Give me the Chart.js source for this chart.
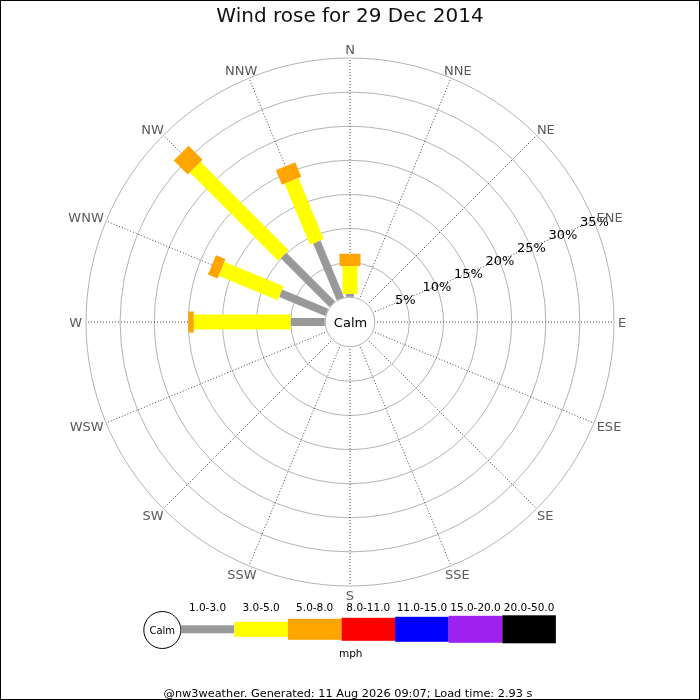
<!DOCTYPE html>
<html>
<head>
<meta charset="utf-8">
<script src="https://cdn.jsdelivr.net/npm/chart.js@4.4.1/dist/chart.umd.min.js"></script>
<style>
    html, body { margin: 0; padding: 0; background: #fff; }
    #wrap { width: 700px; height: 700px; }
</style>
</head>
<body>
<div id="wrap"><canvas id="rose" width="700" height="700"></canvas></div>
<script>
// compass points, clockwise from north
let directions = ['N', 'NNE', 'NE', 'ENE', 'E', 'ESE', 'SE', 'SSE', 'S', 'SSW', 'SW', 'WSW', 'W', 'WNW', 'NW', 'NNW'];
let speed_bins = ['1.0-3.0', '3.0-5.0', '5.0-8.0', '8.0-11.0', '11.0-15.0', '15.0-20.0', '20.0-50.0'];
let bin_colors = ['#999999', '#ffff00', '#ffa500', '#ff0000', '#0000ff', '#a020f0', '#000000'];

// % of the day per direction, one list per speed bin (mph)
let pct_1_3   = [0.4, 0, 0, 0, 0, 0, 0, 0, 0, 0, 0, 0, 5.0, 7.3, 10.1, 9.0];
let pct_3_5   = [4.1, 0, 0, 0, 0, 0, 0, 0, 0, 0, 0, 0, 14.2, 9.4, 18.3, 9.7];
let pct_5_8   = [1.8, 0, 0, 0, 0, 0, 0, 0, 0, 0, 0, 0, 0.8, 1.5, 2.9, 2.3];
let pct_8_11  = [0, 0, 0, 0, 0, 0, 0, 0, 0, 0, 0, 0, 0, 0, 0, 0];
let pct_11_15 = [0, 0, 0, 0, 0, 0, 0, 0, 0, 0, 0, 0, 0, 0, 0, 0];
let pct_15_20 = [0, 0, 0, 0, 0, 0, 0, 0, 0, 0, 0, 0, 0, 0, 0, 0];
let pct_20_50 = [0, 0, 0, 0, 0, 0, 0, 0, 0, 0, 0, 0, 0, 0, 0, 0];

let ring_ticks = [5, 10, 15, 20, 25, 30, 35];

let title_txt = 'Wind rose for 29 Dec 2014';
let unit_txt = 'mph';
let footer_txt = '@nw3weather. Generated: 11 Aug 2026 09:07; Load time: 2.93 s';

const FONT = '"DejaVu Sans", Verdana, sans-serif';
const bar_w = [8, 15, 21, 23, 25, 27, 28];
let all_bins = [pct_1_3, pct_3_5, pct_5_8, pct_8_11, pct_11_15, pct_15_20, pct_20_50];

const roseDraw = {
    id: 'roseDraw',
    beforeDraw(chart) {
        const ctx = chart.ctx;
        ctx.save();
        ctx.fillStyle = '#fff';
        ctx.fillRect(0, 0, chart.width, chart.height);
        ctx.restore();
    },
    afterDatasetsDraw(chart) {
        const ctx = chart.ctx;
        const sc = chart.scales.r;
        const sets = chart.data.datasets;
        ctx.save();

        // calm circle in the middle
        const r0 = sc.getDistanceFromCenterForValue(0);
        ctx.beginPath();
        ctx.arc(sc.xCenter, sc.yCenter, r0 - 0.5, 0, Math.PI * 2);
        ctx.fillStyle = '#fff';
        ctx.fill();
        ctx.lineWidth = 1;
        ctx.strokeStyle = '#b4b4b4';
        ctx.stroke();

        // stacked bars, one per direction
        ctx.lineCap = 'butt';
        directions.forEach(function (d, i) {
            let cum = 0;
            sets.forEach(function (ds, b) {
                let v = ds.data[i];
                if (!v) return;
                let a = sc.getPointPositionForValue(i, cum);
                let z = sc.getPointPositionForValue(i, cum + v);
                ctx.beginPath();
                ctx.moveTo(a.x, a.y);
                ctx.lineTo(z.x, z.y);
                ctx.lineWidth = bar_w[b];
                ctx.strokeStyle = ds.borderColor;
                ctx.stroke();
                cum += v;
            });
        });

        ctx.fillStyle = '#000';
        ctx.font = '13px ' + FONT;
        ctx.textAlign = 'center';
        ctx.textBaseline = 'alphabetic';
        ctx.fillText('Calm', sc.xCenter + 0.5, sc.yCenter + 4.7);

        // ring labels along the ENE spoke
        ring_ticks.forEach(function (t) {
            let p = sc.getPointPositionForValue(3, t);
            ctx.fillText(t + '%', p.x + 0.5, p.y + 4.7);
        });

        // compass labels, nudged outward by their own size
        ctx.fillStyle = '#5a5a5a';
        directions.forEach(function (d, i) {
            let th = i * Math.PI * 2 / directions.length;
            let p = sc.getPointPosition(i, sc.drawingArea + 4);
            let w = ctx.measureText(d).width, h = 9.5;
            let cx = p.x + 0.5 * w * Math.sin(th);
            let cy = p.y - 0.5 * h * Math.cos(th);
            ctx.fillText(d, cx, cy + h / 2);
        });

        // speed key
        const kx = 180.7, ky = 629.3, kw = 53.6;
        ctx.beginPath();
        ctx.arc(162.3, 630, 18.5, 0, Math.PI * 2);
        ctx.fillStyle = '#fff';
        ctx.fill();
        ctx.strokeStyle = '#000';
        ctx.lineWidth = 1;
        ctx.stroke();
        ctx.fillStyle = '#000';
        ctx.font = '10px ' + FONT;
        ctx.fillText('Calm', 162.3, 633.6);
        ctx.font = '10.5px ' + FONT;
        speed_bins.forEach(function (lab, b) {
            let x0 = kx + b * kw;
            ctx.fillStyle = bin_colors[b];
            ctx.fillRect(x0, ky - bar_w[b] / 2, kw, bar_w[b]);
            ctx.fillStyle = '#000';
            ctx.fillText(lab, x0 + kw / 2, 611);
        });
        ctx.fillText(unit_txt, 350.7, 657);

        ctx.font = '11.3px ' + FONT;
        ctx.fillText(footer_txt, 348, 696.5);
        ctx.restore();
    },
    afterDraw(chart) {
        const ctx = chart.ctx;
        ctx.save();
        ctx.strokeStyle = '#000';
        ctx.lineWidth = 1;
        ctx.strokeRect(0.5, 0.5, chart.width - 1, chart.height - 1);
        ctx.restore();
    }
};

let rose = new Chart(document.getElementById('rose'), {
    type: 'radar',
    data: {
        labels: directions,
        datasets: speed_bins.map(function (lab, b) {
            return {
                label: lab, data: all_bins[b],
                fill: false, showLine: false, pointRadius: 0, pointHoverRadius: 0, borderWidth: 0,
                backgroundColor: 'rgba(0,0,0,0)', borderColor: bin_colors[b]
            };
        })
    },
    options: {
        responsive: false,
        animation: false,
        layout: {padding: {top: 0, bottom: 114, left: 0, right: 0}},
        plugins: {
            legend: {display: false},
            tooltip: {enabled: false},
            filler: {propagate: false},
            title: {
                display: true, text: title_txt, color: '#111',
                font: {family: FONT, size: 20, weight: 'normal'},
                padding: {top: 5, bottom: 29}
            }
        },
        scales: {
            r: {
                min: -3.7, max: 35,
                ticks: {display: false, stepSize: 5},
                grid: {
                    circular: true,
                    color: function (c) { return c.tick && c.tick.value > 0 ? '#b4b4b4' : 'rgba(0,0,0,0)'; }
                },
                angleLines: {display: true, color: '#444', borderDash: [1, 2]},
                pointLabels: {display: false}
            }
        }
    },
    plugins: [roseDraw]
});
</script>
</body>
</html>
